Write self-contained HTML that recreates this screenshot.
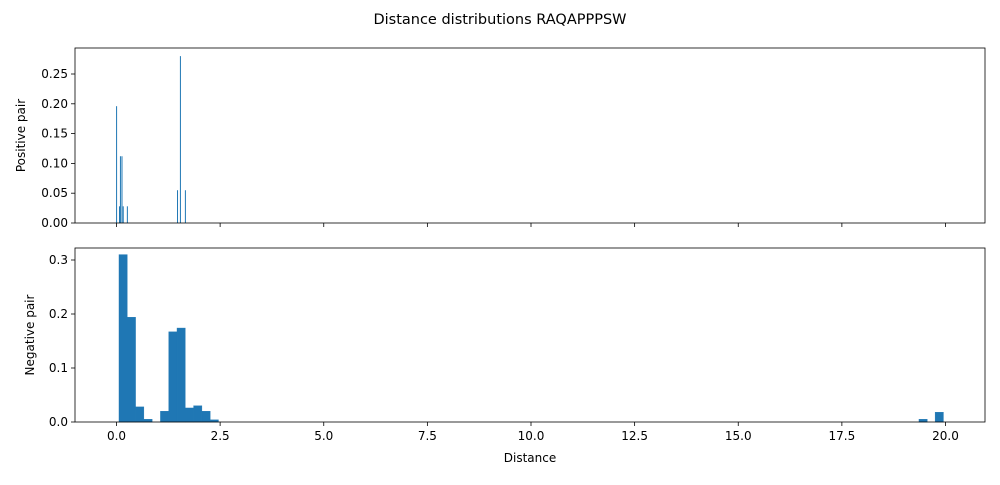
<!DOCTYPE html>
<html><head><meta charset="utf-8"><style>
body{margin:0;background:#fff;font-family:"Liberation Sans","DejaVu Sans",sans-serif}
svg text{font-family:"DejaVu Sans","Liberation Sans",sans-serif;fill:#000}
</style></head><body>
<svg id="chart" width="1000" height="480"></svg>
<script>
const posCenters=[0,0.07,0.093,0.13,0.16,0.26,1.47,1.54,1.66];
const posValues=[0.196,0.028,0.112,0.112,0.028,0.028,0.055,0.28,0.055];
const negStarts=[0.06,0.26,0.46,0.66,1.06,1.26,1.46,1.66,1.86,2.06,2.26,19.36,19.75];
const negValues=[0.31,0.194,0.028,0.005,0.02,0.167,0.174,0.026,0.03,0.02,0.004,0.005,0.018];
const negWidth=0.2, posWidth=0.02;
const xTicks=[0,2.5,5,7.5,10,12.5,15,17.5,20];
const xTickLabels=["0.0","2.5","5.0","7.5","10.0","12.5","15.0","17.5","20.0"];
const posYTicks=[0,0.05,0.1,0.15,0.2,0.25];
const posYLabels=["0.00","0.05","0.10","0.15","0.20","0.25"];
const negYTicks=[0,0.1,0.2,0.3];
const negYLabels=["0.0","0.1","0.2","0.3"];

const svg=document.getElementById('chart');
const NS='http://www.w3.org/2000/svg';
function mk(tag,attrs,parent){const e=document.createElementNS(NS,tag);for(const k in attrs)e.setAttribute(k,attrs[k]);(parent||svg).appendChild(e);return e;}
const L=75,R=985;
const xs=v=>116.5+v*41.45;
const yPos=v=>223-v*596;
const yNeg=v=>422-v*540;

function panel(top,bottom,ys,ticks,labels,name,ytitle,showXLabels){
  const g=mk('g',{});
  
  
  ticks.forEach((t,i)=>{
    const y=ys(t);
    const l=mk('line',{x1:L-4,x2:L,y1:y,y2:y,stroke:'#000','stroke-width':0.8},g);
    
    const tx=mk('text',{x:L-7,y:y+4,'text-anchor':'end','font-size':12},g);
    tx.textContent=labels[i];
    
  });
  xTicks.forEach((t,i)=>{
    const x=xs(t);
    const l=mk('line',{x1:x,x2:x,y1:bottom,y2:bottom+4,stroke:'#000','stroke-width':0.8},g);
    
    if(showXLabels){
      const tx=mk('text',{x:x,y:bottom+18,'text-anchor':'middle','font-size':12},g);
      tx.textContent=xTickLabels[i];
      
    }
  });
  const yt=mk('text',{x:0,y:0,'text-anchor':'middle','font-size':12,transform:`translate(${name==='positive'?25:34},${(top+bottom)/2}) rotate(-90)`},g);
  yt.textContent=ytitle;
  
  return g;
}
const g1=panel(48,223,yPos,posYTicks,posYLabels,'positive','Positive pair',false);
const g2=panel(248,422,yNeg,negYTicks,negYLabels,'negative','Negative pair',true);

posCenters.forEach((c,i)=>{
  const x0=xs(c-posWidth/2),x1=xs(c+posWidth/2);
  const r=mk('rect',{x:x0,y:yPos(posValues[i]),width:Math.max(x1-x0,1),height:223-yPos(posValues[i]),fill:'#1f77b4'},g1);
  
  
});
negStarts.forEach((s,i)=>{
  const x0=xs(s),x1=xs(s+negWidth);
  const r=mk('rect',{x:x0,y:yNeg(negValues[i]),width:x1-x0,height:422-yNeg(negValues[i]),fill:'#1f77b4',stroke:'#1f77b4','stroke-width':0.4},g2);
  
  
});
const f1=mk('rect',{x:L,y:48,width:R-L,height:175,fill:'none',stroke:'#000','stroke-width':0.8});

const f2=mk('rect',{x:L,y:248,width:R-L,height:174,fill:'none',stroke:'#000','stroke-width':0.8});

const title=mk('text',{x:500,y:24,'text-anchor':'middle','font-size':14.5});
title.textContent='Distance distributions RAQAPPPSW';

const xt=mk('text',{x:530,y:462,'text-anchor':'middle','font-size':12});
xt.textContent='Distance';

</script>
</body></html>
